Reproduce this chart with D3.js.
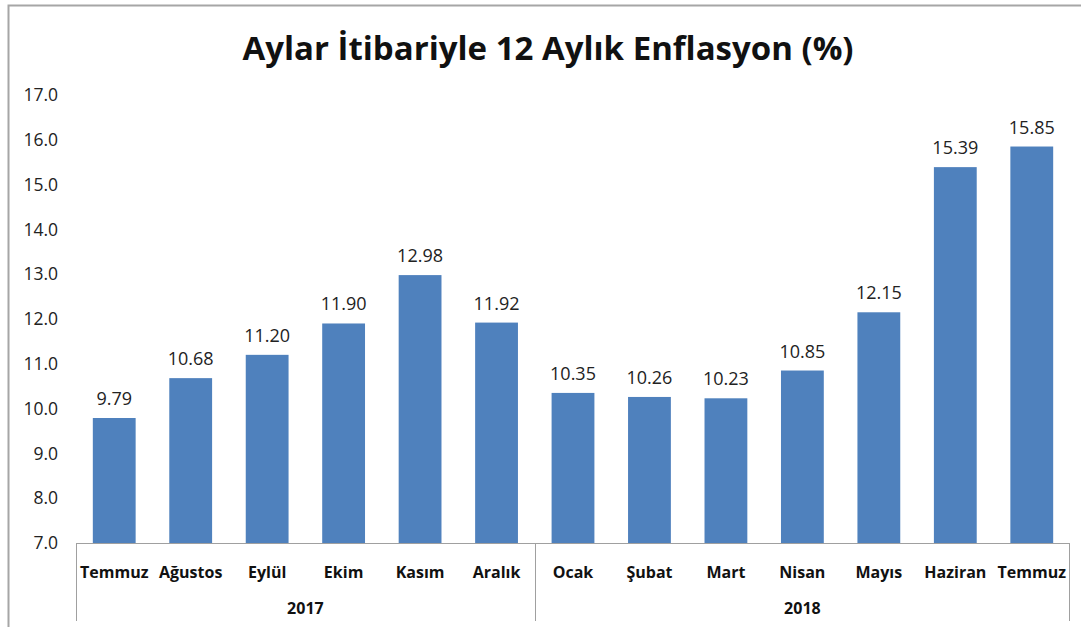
<!DOCTYPE html>
<html>
<head>
<meta charset="utf-8">
<script src="https://cdn.jsdelivr.net/npm/d3@7"></script>
<style>
  body { margin: 0; background: #fff; }
  text { font-family: "Open Sans", "DejaVu Sans", sans-serif; }
</style>
</head>
<body>
<svg id="chart" width="1081" height="627"></svg>
<script>
const months = ['Temmuz', 'Ağustos', 'Eylül', 'Ekim', 'Kasım', 'Aralık',
  'Ocak', 'Şubat', 'Mart', 'Nisan', 'Mayıs', 'Haziran', 'Temmuz'];
const years = ['2017', '2018'];
const yearOf = [0, 0, 0, 0, 0, 0, 1, 1, 1, 1, 1, 1, 1];
const inflation = [9.79, 10.68, 11.20, 11.90, 12.98, 11.92,
  10.35, 10.26, 10.23, 10.85, 12.15, 15.39, 15.85];
const yTicks = [7, 8, 9, 10, 11, 12, 13, 14, 15, 16, 17];

const svg = d3.select('#chart');
const W = 1081, H = 627;
const margin = { top: 95, right: 11, bottom: 84, left: 76 };
const plotW = W - margin.left - margin.right;
const plotH = H - margin.top - margin.bottom;

// outer chart frame
svg.append('rect')
  .attr('x', 8.5).attr('y', 5.5)
  .attr('width', 1080).attr('height', 640)
  .attr('fill', 'none')
  .attr('stroke', '#a6a6a6')
  .attr('stroke-width', 2);

svg.append('text')
  .attr('x', 548)
  .attr('y', 60)
  .attr('text-anchor', 'middle')
  .style('font-size', '33px')
  .style('font-weight', 'bold')
  .style('fill', '#111')
  .text('Aylar İtibariyle 12 Aylık Enflasyon (%)');

const g = svg.append('g').attr('transform', `translate(${margin.left},${margin.top})`);

const x = d3.scaleBand()
  .domain(d3.range(months.length))
  .range([0, plotW])
  .paddingInner(0.44)
  .paddingOuter(0.22);

const y = d3.scaleLinear().domain([7, 17]).range([plotH, 0]);

// y tick labels (no axis line)
g.selectAll('.ytick')
  .data(yTicks)
  .enter().append('text')
  .attr('class', 'ytick')
  .attr('x', -18)
  .attr('y', d => y(d))
  .attr('dy', '0.35em')
  .attr('text-anchor', 'end')
  .style('font-size', '17.5px')
  .style('fill', '#222')
  .text(d => d.toFixed(1));

// bars
g.selectAll('.bar')
  .data(inflation)
  .enter().append('rect')
  .attr('class', 'bar')
  .attr('x', (d, i) => x(i))
  .attr('y', d => y(d))
  .attr('width', x.bandwidth())
  .attr('height', d => plotH - y(d))
  .attr('fill', '#4f81bd');

// value labels
g.selectAll('.val')
  .data(inflation)
  .enter().append('text')
  .attr('class', 'val')
  .attr('x', (d, i) => x(i) + x.bandwidth() / 2)
  .attr('y', d => y(d) - 13)
  .attr('text-anchor', 'middle')
  .style('font-size', '18px')
  .style('fill', '#222')
  .text(d => d.toFixed(2));

// x axis line and group separators
const step = x.step();
const axisColor = '#a0a0a0';
g.append('line')
  .attr('x1', 0).attr('x2', plotW)
  .attr('y1', plotH + 0.5).attr('y2', plotH + 0.5)
  .attr('stroke', axisColor);

const splits = [0, 6, months.length];
splits.forEach(k => {
  const xx = Math.round(k * step) + 0.5 - (k === months.length ? 1 : 0);
  g.append('line')
    .attr('x1', xx).attr('x2', xx)
    .attr('y1', plotH).attr('y2', plotH + 78)
    .attr('stroke', axisColor);
});

// month labels
g.selectAll('.mlab')
  .data(months)
  .enter().append('text')
  .attr('class', 'mlab')
  .attr('x', (d, i) => x(i) + x.bandwidth() / 2)
  .attr('y', plotH + 35)
  .attr('text-anchor', 'middle')
  .style('font-size', '16px')
  .style('font-weight', 'bold')
  .style('fill', '#111')
  .text(d => d);

// year labels, centred under their months
g.selectAll('.ylab')
  .data(years)
  .enter().append('text')
  .attr('class', 'ylab')
  .attr('x', (d, yi) => {
    const idx = d3.range(months.length).filter(i => yearOf[i] === yi);
    return (x(idx[0]) + x(idx[idx.length - 1]) + x.bandwidth()) / 2;
  })
  .attr('y', plotH + 71)
  .attr('text-anchor', 'middle')
  .style('font-size', '16px')
  .style('font-weight', 'bold')
  .style('fill', '#111')
  .text(d => d);
</script>
</body>
</html>
